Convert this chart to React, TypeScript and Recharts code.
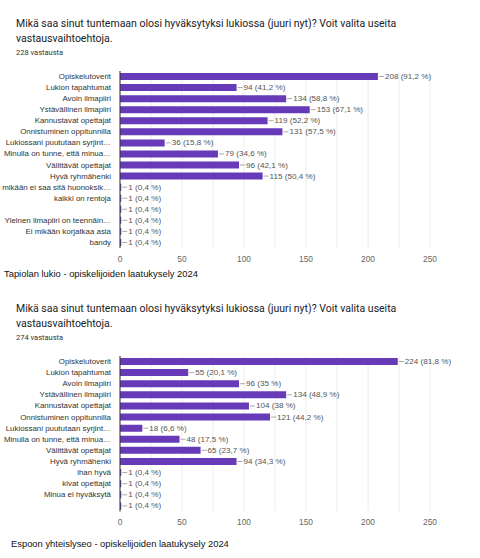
import React from 'react';
import { BarChart, Bar, XAxis, YAxis, CartesianGrid, LabelList } from 'recharts';

const QUESTION = 'Mikä saa sinut tuntemaan olosi hyväksytyksi lukiossa (juuri nyt)? Voit valita useita vastausvaihtoehtoja.';

const tapiolaCategories = [
  'Opiskelutoverit',
  'Lukion tapahtumat',
  'Avoin ilmapiiri',
  'Ystävällinen ilmapiiri',
  'Kannustavat opettajat',
  'Onnistuminen oppitunnilla',
  'Lukiossani puututaan syrjint…',
  'Minulla on tunne, että minua…',
  'Välittävät opettajat',
  'Hyvä ryhmähenki',
  'mikään ei saa sitä huonoksik…',
  'kaikki on rentoja',
  ' ',
  'Yleinen ilmapiiri on teennäin…',
  'Ei mikään korjatkaa asia',
  'bandy'
];
const tapiolaValues = [208, 94, 134, 153, 119, 131, 36, 79, 96, 115, 1, 1, 1, 1, 1, 1];
const tapiolaTotal = 228;

const eyslCategories = [
  'Opiskelutoverit',
  'Lukion tapahtumat',
  'Avoin ilmapiiri',
  'Ystävällinen ilmapiiri',
  'Kannustavat opettajat',
  'Onnistuminen oppitunnilla',
  'Lukiossani puututaan syrjint…',
  'Minulla on tunne, että minua…',
  'Välittävät opettajat',
  'Hyvä ryhmähenki',
  'ihan hyvä',
  'kivat opettajat',
  'Minua ei hyväksytä',
  ' '
];
const eyslValues = [224, 55, 96, 134, 104, 121, 18, 48, 65, 94, 1, 1, 1, 1];
const eyslTotal = 274;

const gridTicks = [0, 25, 50, 75, 100, 125, 150, 175, 200, 225, 250];
const labelTicks = [0, 50, 100, 150, 200, 250];

const PURPLE = '#673ab7';
const AXIS_FONT = '"Liberation Sans", Arial, sans-serif';
const TITLE_FONT = 'Roboto, "Liberation Sans", sans-serif';

const pct = (v: number, total: number) => {
  const p = Math.round((v / total) * 1000) / 10;
  return `${p}`.replace('.', ',');
};

const ValueLabel = (total: number) => (props: any) => {
  const { x, y, width, height, value } = props;
  const ex = x + width;
  const cy = y + height / 2;
  return (
    <g>
      <line x1={ex + 1} y1={cy} x2={ex + 6} y2={cy} stroke="#aaa" strokeWidth={1} />
      <text x={ex + 7} y={cy} dominantBaseline="central" fontSize={8.1} fill="#555" fontFamily={AXIS_FONT}>
        {`${value} (${pct(value, total)} %)`}
      </text>
    </g>
  );
};

const CategoryTick = (props: any) => {
  const { x, y, payload } = props;
  return (
    <text x={x - 1} y={y} textAnchor="end" dominantBaseline="central" fontSize={7.9} fill="#333" fontFamily={AXIS_FONT}>
      {payload.value}
    </text>
  );
};

type ChartProps = { categories: string[]; values: number[]; total: number; top: number; plotHeight: number };

const HBar = ({ categories, values, total, top, plotHeight }: ChartProps) => {
  const data = categories.map((name, i) => ({ name, value: values[i] }));
  return (
    <div style={{ position: 'absolute', left: 0, top }}>
      <BarChart
        width={480}
        height={plotHeight + 20}
        data={data}
        layout="vertical"
        margin={{ top: 0, right: 50, left: 0, bottom: 0 }}
        barCategoryGap={0}
      >
        <CartesianGrid horizontal={false} stroke="#ececec" />
        <XAxis
          type="number"
          domain={[0, 250]}
          ticks={gridTicks}
          tickFormatter={(v: number) => (labelTicks.includes(v) ? String(v) : '')}
          axisLine={false}
          tickLine={false}
          tickMargin={2}
          height={20}
          tick={{ fontSize: 8.4, fill: '#666', fontFamily: AXIS_FONT }}
        />
        <YAxis
          type="category"
          dataKey="name"
          width={120}
          interval={0}
          axisLine={{ stroke: '#333' }}
          tickLine={false}
          tick={<CategoryTick />}
        />
        <Bar dataKey="value" fill={PURPLE} barSize={7} isAnimationActive={false}>
          <LabelList dataKey="value" content={ValueLabel(total)} />
        </Bar>
      </BarChart>
    </div>
  );
};

const Header = ({ top, count }: { top: number; count: number }) => (
  <div style={{ position: 'absolute', left: 16, top, width: 440, fontFamily: TITLE_FONT, color: '#202124' }}>
    <div style={{ fontSize: 10.5, lineHeight: '15px' }}>{QUESTION}</div>
    <div style={{ fontSize: 7.5, lineHeight: '12px', color: '#333', marginTop: 1 }}>{count} vastausta</div>
  </div>
);

const Footer = ({ top, left, text }: { top: number; left: number; text: string }) => (
  <div style={{ position: 'absolute', left, top, fontFamily: AXIS_FONT, fontSize: 9.4, color: '#111', lineHeight: '12px' }}>
    {text}
  </div>
);

const App: React.FC = () => {
  return (
    <div style={{ position: 'absolute', left: 0, top: 0, width: 480, height: 558, background: '#fff', overflow: 'hidden' }}>
      <Header top={16} count={tapiolaTotal} />
      <HBar categories={tapiolaCategories} values={tapiolaValues} total={tapiolaTotal} top={70.5} plotHeight={177} />
      <Footer top={268} left={4} text="Tapiolan lukio - opiskelijoiden laatukysely 2024" />
      <Header top={301} count={eyslTotal} />
      <HBar categories={eyslCategories} values={eyslValues} total={eyslTotal} top={355.5} plotHeight={155.5} />
      <Footer top={538} left={11} text="Espoon yhteislyseo - opiskelijoiden laatukysely 2024" />
    </div>
  );
};

export default App;
